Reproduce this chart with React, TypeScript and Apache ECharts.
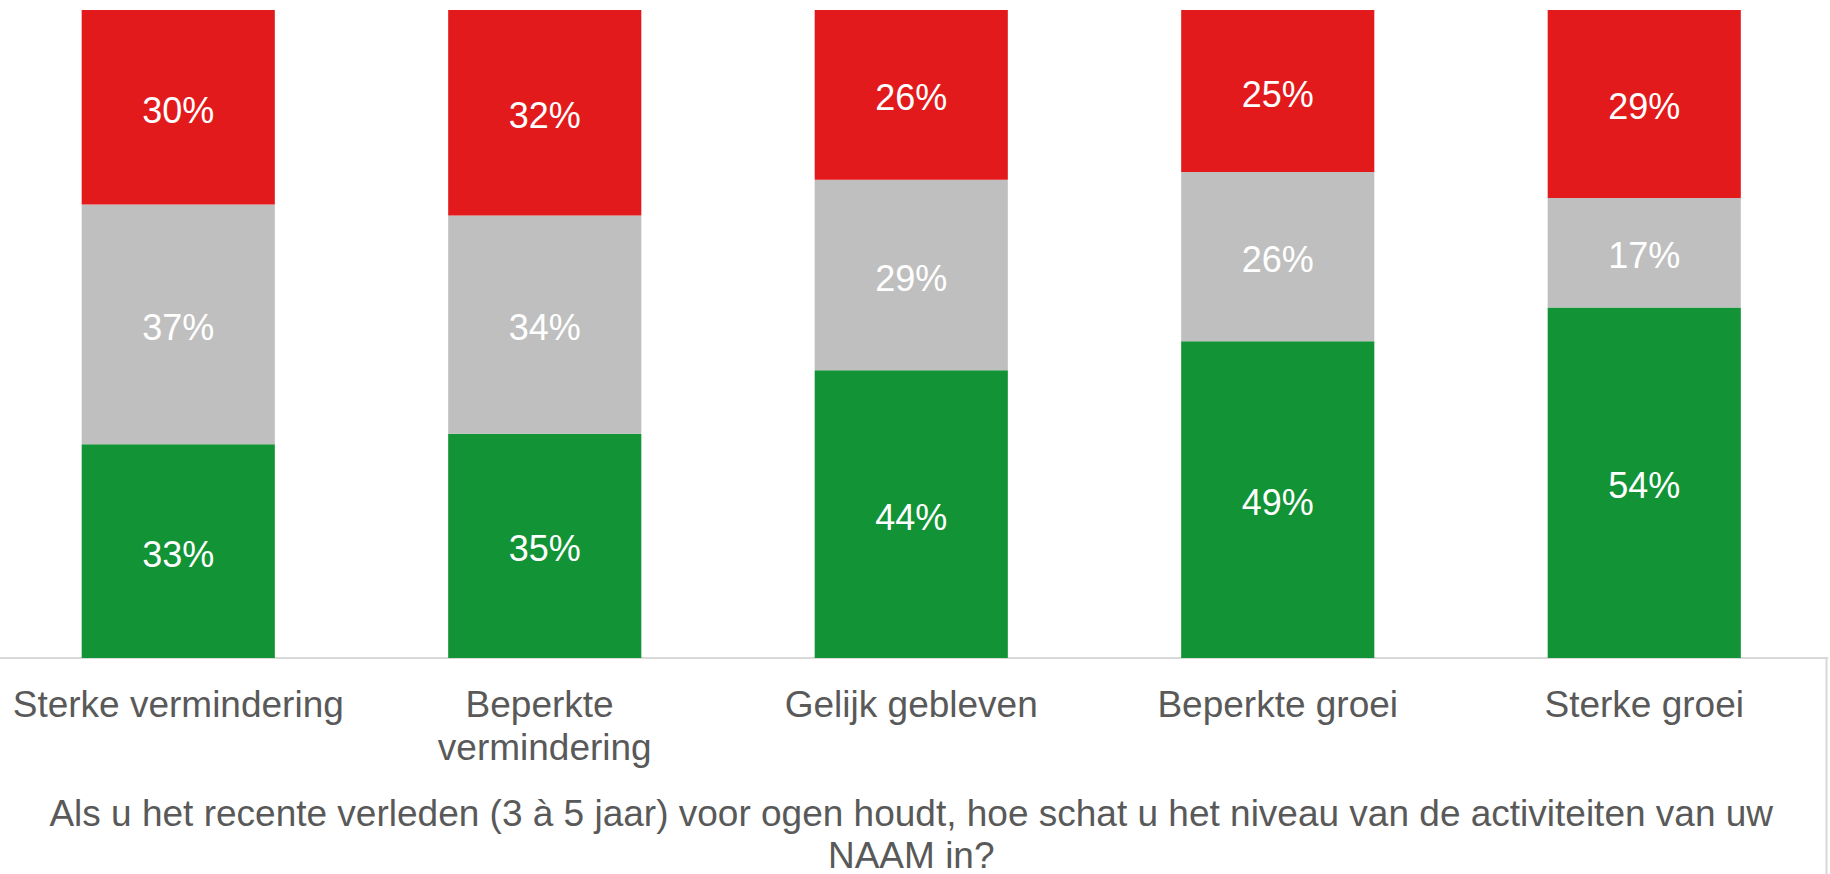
import React, { useEffect, useRef } from "react";
import * as echarts from "echarts";

const categories = [
  "Sterke vermindering",
  "Beperkte vermindering",
  "Gelijk gebleven",
  "Beperkte groei",
  "Sterke groei",
];
const positief = [33, 34.6, 44.4, 48.9, 54.1];
const neutraal = [37, 33.7, 29.4, 26.1, 16.9];
const negatief = [30, 31.7, 26.2, 25.0, 29.0];
const axisTitle =
  "Als u het recente verleden (3 à 5 jaar) voor ogen houdt, hoe schat u het niveau van de activiteiten van uw\nNAAM in?";

const FONT = "'Liberation Sans', Arial, Helvetica, sans-serif";

export default function App() {
  const ref = useRef<HTMLDivElement>(null);
  useEffect(() => {
    document.body.style.margin = "0";
    if (!ref.current) return;
    const chart = echarts.init(ref.current, undefined, { renderer: "svg" });
    const label = {
      show: true,
      position: "inside" as const,
      color: "#ffffff",
      fontSize: 36,
      fontFamily: FONT,
      offset: [0, 3],
      formatter: (p: any) => Math.round(p.value) + "%",
    };
    const mk = (name: string, data: number[], color: string) => ({
      name,
      type: "bar" as const,
      stack: "total",
      data,
      barWidth: "52.7%",
      itemStyle: { color },
      label,
    });
    chart.setOption({
      animation: false,
      textStyle: { fontFamily: FONT },
      grid: {
        left: 0,
        width: 1832.5,
        top: 10,
        height: 648,
        outerBoundsMode: "none",
        containLabel: false,
      },
      xAxis: {
        type: "category",
        data: categories,
        axisLine: { show: true, lineStyle: { color: "#D9D9D9", width: 2 } },
        axisTick: { show: false },
        axisLabel: {
          color: "#595959",
          fontSize: 37,
          fontFamily: FONT,
          margin: 25,
          lineHeight: 43,
          width: 350,
          overflow: "break",
          interval: 0,
        },
        name: axisTitle,
        nameLocation: "middle",
        nameGap: 134,
        nameTextStyle: {
          color: "#595959",
          fontSize: 37,
          fontFamily: FONT,
          lineHeight: 42,
          align: "center",
        },
      },
      yAxis: { type: "value", min: 0, max: 100, show: false },
      graphic: [
        {
          type: "line",
          shape: { x1: 1831.5, y1: 658, x2: 1831.5, y2: 874 },
          style: { stroke: "#D9D9D9", lineWidth: 2 },
        },
      ],
      series: [
        mk("Positief", positief, "#119336"),
        mk("Neutraal", neutraal, "#BFBFBF"),
        mk("Negatief", negatief, "#E31A1C"),
      ],
    });
    return () => chart.dispose();
  }, []);
  return (
    <div
      ref={ref}
      style={{ position: "absolute", left: -5, top: 0, width: 1835, height: 874 }}
    />
  );
}
